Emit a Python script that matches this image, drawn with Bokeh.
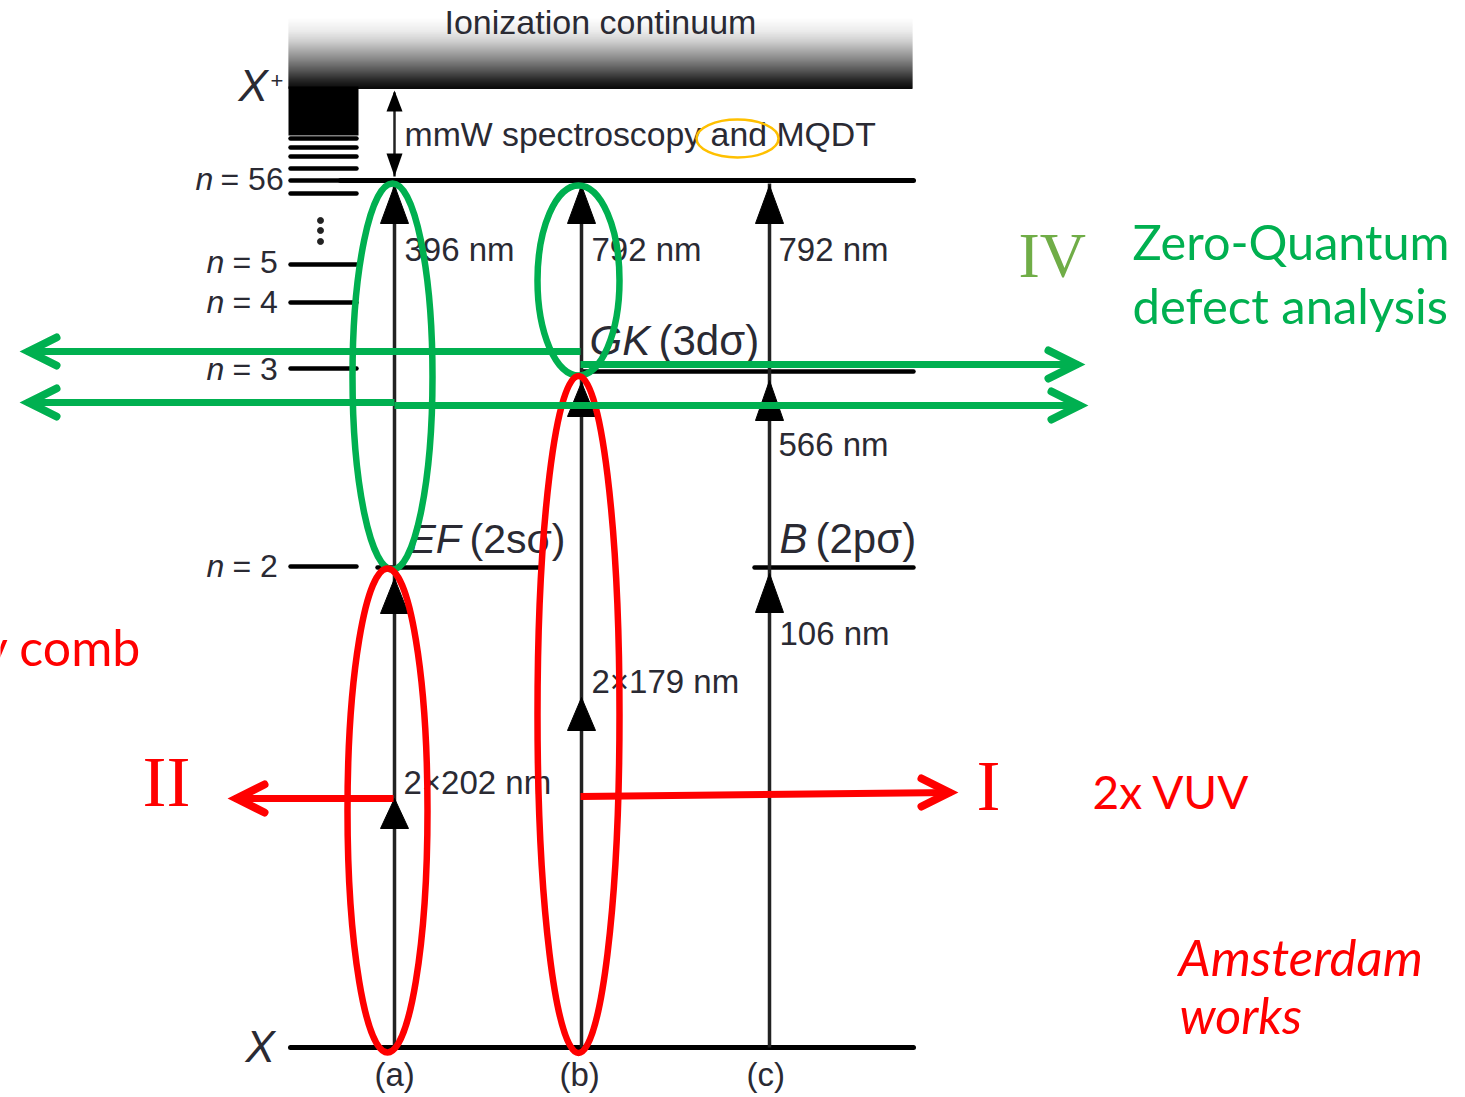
from bokeh.plotting import figure
from bokeh.embed import file_html
from bokeh.resources import INLINE
from bokeh.core.properties import value
import numpy as np

# --- energy levels (segments: x0, x1, y) ---
level_x0 = [290, 290, 290, 290, 290, 290, 340, 290, 290, 290, 290, 377, 754, 582, 290]
level_x1 = [356, 356, 356, 356, 356, 356, 913, 356, 356, 356, 356, 538, 913, 913, 913]
level_y = [138, 147, 156, 168, 180, 193, 180, 264, 302, 368, 566, 567, 567, 371, 1047]
level_w = [4.5, 4.5, 4.5, 4.5, 4.5, 4.5, 5, 4.5, 4.5, 4.5, 4.5, 4.5, 4.5, 4.5, 5]

# --- transitions ---
arrow_x = [394, 581, 769]
arrow_top = [183, 183, 183]
arrow_bottom = [1047, 1047, 1047]
head_x = [394, 394, 394, 581, 581, 581, 769, 769, 769]
head_tip = [185, 578, 798, 185, 382, 697, 185, 380, 573]
head_base = [223, 613, 828, 223, 416, 730, 223, 420, 612]

# --- continuum gradient stops ---
grad_y = [17, 30, 40, 50, 60, 70, 80, 88]
grad_gray = [255, 236, 208, 168, 128, 84, 36, 8]

# --- annotations ---
green_x0 = [580, 394, 394, 580]
green_y0 = [351, 402, 405, 364]
green_x1 = [20, 20, 1087, 1084]
green_y1 = [351, 402, 405, 364]
red_x0 = [393, 580]
red_y0 = [798, 796]
red_x1 = [228, 957]
red_y1 = [798, 792]

ell_x = [392, 578, 387, 578, 737]
ell_y = [376, 280, 810, 714, 138]
ell_w = [80, 82, 80, 82, 82]
ell_h = [386, 190, 484, 677, 38]
ell_c = ["#00B050", "#00B050", "#FF0000", "#FF0000", "#FFC000"]
ell_lw = [6.5, 6.5, 6.5, 6.5, 2.5]

labels_reg = ["Ionization continuum", "mmW spectroscopy and MQDT", "396 nm", "792 nm", "792 nm",
              "566 nm", "106 nm", "2×179 nm", "2×202 nm", "(a)", "(b)", "(c)",
              "= 56", "= 5", "= 4", "= 3", "= 2", "(2sσ)", "(3dσ)", "(2pσ)", "+"]
labels_reg_x = [444, 404, 404, 591, 778, 778, 779, 591, 403, 374, 559, 746,
                220, 232, 232, 232, 232, 469, 658, 815, 270]
labels_reg_y = [34, 146, 261, 261, 261, 456, 645, 693, 794, 1086, 1086, 1086,
                190, 273, 313, 380, 577, 554, 356, 554, 88]
labels_reg_s = [34, 33.8, 33, 33, 33, 33, 33, 33, 33, 33, 33, 33,
                32, 32, 32, 32, 32, 41, 42, 42, 22]

labels_it = ["n", "n", "n", "n", "n", "EF", "GK", "B", "X", "X"]
labels_it_x = [195, 206, 206, 206, 206, 408, 589, 779, 245, 238]
labels_it_y = [190, 273, 313, 380, 577, 554, 356, 554, 1062, 101]
labels_it_s = [32, 32, 32, 32, 32, 41, 42, 42, 44, 44]

W, H = 1465, 1097
p = figure(width=W, height=H, x_range=(0, W), y_range=(H, 0),
           toolbar_location=None, output_backend="svg", min_border=0,
           outline_line_color=None, background_fill_color="white")
p.axis.visible = False
p.grid.visible = False

OFFSET = {"Liberation Sans": 0.37, "Lato": 0.38, "Liberation Serif": 0.36}

def txt(t, x, y, size, color, font, style="normal", align="left"):
    p.text([x], [y], text=[t], text_font=value(font), text_font_size=f"{size}px", text_font_style=style,
           text_color=color, text_baseline="alphabetic", text_align=align,
           y_offset=-OFFSET[font] * size)

# continuum gradient
ys = np.arange(grad_y[0], grad_y[-1], 1.0)
gr = np.interp(ys, grad_y, grad_gray).astype(int)
p.quad(left=288, right=912, top=ys, bottom=ys + 1.4,
       fill_color=[f"#{g:02x}{g:02x}{g:02x}" for g in gr], line_color=None)
# dense Rydberg block
p.quad(left=[288], right=[358], top=[86], bottom=[135], fill_color="black", line_color=None)

for x0, x1, y, w in zip(level_x0, level_x1, level_y, level_w):
    p.line([x0, x1], [y, y], line_color="black", line_width=w, line_cap="round")

# dots
p.scatter(x=[320, 320, 320], y=[220, 230, 241], size=6, color="#222222")

# transitions
for x, t, b in zip(arrow_x, arrow_top, arrow_bottom):
    p.line([x, x], [t, b], line_color="#222222", line_width=3.5)
p.patches(xs=[[x, x - 14, x + 14] for x in head_x],
          ys=[[t, b, b] for t, b in zip(head_tip, head_base)],
          fill_color="black", line_color="black", line_width=1)

# mmW double arrow
p.line([394, 394], [92, 176], line_color="#222222", line_width=2.5)
p.patches(xs=[[394, 386, 402], [394, 386, 402]], ys=[[90, 111, 111], [176, 153, 153]],
          fill_color="black", line_color=None)

# texts
for t, x, y, s in zip(labels_reg, labels_reg_x, labels_reg_y, labels_reg_s):
    txt(t, x, y, s, "#2a2a33", "Liberation Sans")
for t, x, y, s in zip(labels_it, labels_it_x, labels_it_y, labels_it_s):
    txt(t, x, y, s, "#2a2a33", "Liberation Sans", style="italic")

# ellipses
for x, y, w, h, c, lw in zip(ell_x, ell_y, ell_w, ell_h, ell_c, ell_lw):
    p.ellipse([x], [y], width=[w], height=[h], fill_color=None, line_color=c, line_width=lw)

# annotation arrows
def arrow(x0, y0, x1, y1, c):
    d = 1 if x1 > x0 else -1
    p.line([x0, x1 - d * 6], [y0, y1], line_color=c, line_width=7)
    p.line([x1 - d * 36, x1 - d * 8, x1 - d * 36], [y1 - 14, y1, y1 + 14], line_color=c,
           line_width=8, line_cap="round", line_join="miter")

for a in zip(green_x0, green_y0, green_x1, green_y1):
    arrow(*a, "#00B050")
for a in zip(red_x0, red_y0, red_x1, red_y1):
    arrow(*a, "#FF0000")

txt("Zero-Quantum", 1132, 259, 48.6, "#00B050", "Lato")
txt("defect analysis", 1132, 323, 49, "#00B050", "Lato")
txt("2x VUV", 1092, 808, 46, "#FF0000", "Lato")
txt("y comb", 141, 665, 50, "#FF0000", "Lato", align="right")
txt("Amsterdam", 1178, 975, 51, "#FF0000", "Lato", style="italic")
txt("works", 1179, 1033, 50, "#FF0000", "Lato", style="italic")
txt("II", 142, 807, 72, "#FF0000", "Liberation Serif")
txt("I", 976, 811, 72, "#FF0000", "Liberation Serif")
txt("IV", 1018, 278, 64, "#70AD47", "Liberation Serif")

open("out.html", "w").write(file_html(p, INLINE))
